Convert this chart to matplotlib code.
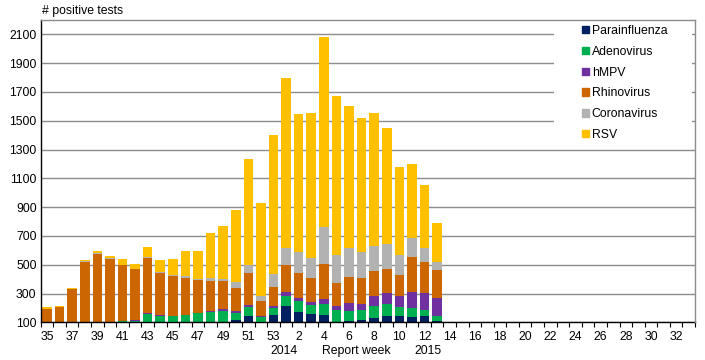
import numpy as np
import matplotlib
matplotlib.use('Agg')
import matplotlib.pyplot as plt
import matplotlib.patches as mpatches
import matplotlib.transforms as mtransforms

plt.rcParams['font.family'] = ['Liberation Sans', 'DejaVu Sans']

# report weeks on the axis (season 2014/2015)
weeks = list(range(35, 54)) + list(range(1, 34))

# positive tests per virus, weeks 35..53, 1..13
parainfluenza = [15, 15, 15, 15, 15, 15, 15, 15, 20, 20, 20, 20, 20, 20, 20, 114, 142, 90, 149,
                 211, 170, 156, 149, 95, 107, 114, 130, 144, 144, 137, 144, 107]
adenovirus = [70, 70, 70, 70, 70, 70, 92, 94, 138, 124, 124, 129, 143, 150, 156, 49, 62, 45, 48,
              70, 76, 62, 76, 88, 69, 72, 84, 81, 63, 60, 39, 35]
hmpv = [5, 5, 5, 5, 5, 5, 3, 7, 7, 7, 2, 0, 0, 6, 14, 13, 14, 9, 14,
        28, 21, 21, 35, 28, 56, 39, 67, 77, 74, 112, 119, 125]
rhinovirus = [103, 117, 242, 429, 485, 450, 389, 355, 382, 290, 274, 257, 229, 209, 195, 160, 223, 102, 132,
              187, 174, 167, 243, 160, 181, 183, 176, 169, 146, 243, 215, 194]
coronavirus = [0, 0, 0, 7, 7, 7, 0, 0, 7, 9, 7, 14, 9, 23, 14, 42, 55, 35, 91,
               123, 146, 141, 257, 195, 201, 181, 174, 173, 139, 134, 100, 58]
rsv = [14, 7, 7, 7, 14, 14, 41, 34, 68, 81, 111, 174, 193, 311, 368, 500, 737, 646, 966,
       1177, 959, 1006, 1321, 1105, 987, 929, 922, 805, 611, 512, 435, 269]

series = [('Parainfluenza', parainfluenza, '#002060'),
          ('Adenovirus', adenovirus, '#00B050'),
          ('hMPV', hmpv, '#7030A0'),
          ('Rhinovirus', rhinovirus, '#CC6600'),
          ('Coronavirus', coronavirus, '#B2B2B2'),
          ('RSV', rsv, '#FFC000')]

fig = plt.figure(figsize=(7.05, 3.6), dpi=100)
ax = fig.add_axes([40.7 / 705, 1 - 322.3 / 360, (695 - 40.7) / 705, (322.3 - 19.9) / 360])

x = np.arange(len(parainfluenza))
bottom = np.zeros(len(x))
handles = []
for name, vals, col in series:
    vals = np.array(vals, dtype=float)
    ax.bar(x, vals, bottom=bottom, width=0.76, color=col, zorder=2)
    bottom += vals
    handles.append(mpatches.Patch(color=col, label=name))

ax.set_xlim(-0.5, len(weeks) - 0.5)
ax.set_ylim(100, 2200)
ax.set_yticks(np.arange(100, 2101, 200))
ax.yaxis.grid(True, color='#8c8c8c', lw=1.0, zorder=0)
ax.set_axisbelow(True)
ax.tick_params(axis='y', length=0, labelsize=8.8, pad=3)

# labels every second week, tick marks between weeks
ax.set_xticks(np.arange(0, len(weeks), 2))
ax.set_xticklabels([str(weeks[i]) for i in range(0, len(weeks), 2)])
ax.set_xticks(np.arange(-0.5, len(weeks), 1), minor=True)
ax.tick_params(axis='x', which='major', length=0, labelsize=8.8, pad=6)
ax.tick_params(axis='x', which='minor', length=3.5, width=0.8, direction='out')

for s in ['left', 'bottom']:
    ax.spines[s].set_color('black')
    ax.spines[s].set_linewidth(1.0)
for s in ['top', 'right']:
    ax.spines[s].set_color('#8c8c8c')
    ax.spines[s].set_linewidth(1.0)
    ax.spines[s].set_zorder(5)

fig.text(42 / 705, 1 - 11 / 360, '# positive tests', fontsize=8.8, va='center', ha='left')

trans = mtransforms.blended_transform_factory(ax.transData, ax.transAxes)
ax.text(18.8, -0.095, '2014', transform=trans, fontsize=8.8, ha='center', va='center')
ax.text(24.6, -0.095, 'Report week', transform=trans, fontsize=8.8, ha='center', va='center')
ax.text(30.3, -0.095, '2015', transform=trans, fontsize=8.8, ha='center', va='center')

# white box behind legend hides the gridlines
x0, x1 = 40.7, 695
y0, y1 = 322.3, 19.9
bx = (554 - x0) / (x1 - x0)
bw = (692 - 554) / (x1 - x0)
by = (y0 - 142) / (y0 - y1)
ax.add_patch(mpatches.Rectangle((bx, by), bw, 1 - by, transform=ax.transAxes,
                                facecolor='white', edgecolor='none', zorder=3))

lgd = ax.legend(handles=handles, loc='upper left', bbox_to_anchor=(582 / 705, 1 - 25 / 360),
                bbox_transform=fig.transFigure, frameon=False, fontsize=8.8,
                handlelength=0.55, handleheight=0.55, handletextpad=0.25,
                labelspacing=0.72, borderaxespad=0, borderpad=0)
lgd.set_zorder(4)

fig.savefig('out.png', dpi=100)
